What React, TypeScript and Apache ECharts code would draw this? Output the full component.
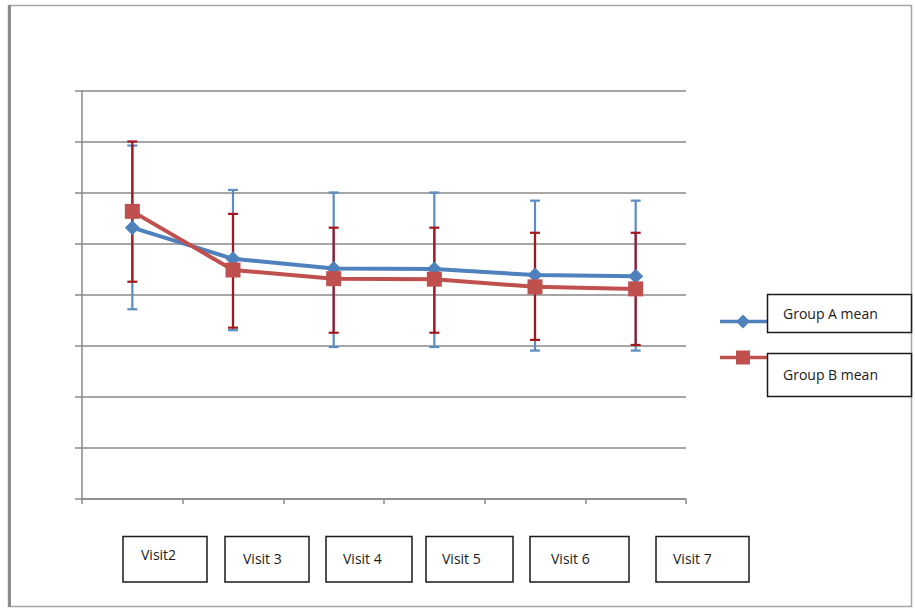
import React, { useEffect, useRef } from "react";
import * as echarts from "echarts";

const categories = ["Visit2", "Visit 3", "Visit 4", "Visit 5", "Visit 6", "Visit 7"];
const seriesNames = ["Group A mean", "Group B mean"];

const groupAMean = [5.32, 4.71, 4.52, 4.51, 4.39, 4.37];
const groupALow = [3.72, 3.31, 2.98, 2.98, 2.91, 2.91];
const groupAHigh = [6.93, 6.06, 6.01, 6.01, 5.85, 5.85];

const groupBMean = [5.64, 4.49, 4.32, 4.31, 4.16, 4.12];
const groupBLow = [4.26, 3.36, 3.26, 3.26, 3.12, 3.02];
const groupBHigh = [7.01, 5.59, 5.32, 5.32, 5.22, 5.22];

const yMin = 0;
const yMax = 8;
const yStep = 1;

// layout of the text boxes under the plot (page pixels)
const labelBoxes = [
  { x: 123, w: 84, tx: 141, ty: 554 },
  { x: 225, w: 84, tx: 243, ty: 558 },
  { x: 326, w: 86, tx: 343, ty: 558 },
  { x: 426, w: 87, tx: 442, ty: 558 },
  { x: 530, w: 99, tx: 551, ty: 558 },
  { x: 656, w: 93, tx: 673, ty: 558 },
];

const BLUE = "#4F81BD";
const RED = "#C0504D";
const BLUE_ERR = "#5B8CC2";
const RED_ERR = "#A3171F";
const GRID = "#8a8a8a";
const FONT = "'Open Sans', 'Noto Sans', sans-serif";

function errorSeries(name: string, low: number[], high: number[], color: string, z: number) {
  return {
    type: "custom",
    name: name + " error",
    z,
    silent: true,
    data: categories.map((_, i) => [i, low[i], high[i]]),
    encode: { x: 0, y: [1, 2] },
    renderItem: (params: any, api: any) => {
      const idx = api.value(0);
      const lo = api.coord([idx, api.value(1)]);
      const hi = api.coord([idx, api.value(2)]);
      const cap = 5;
      const st = { stroke: color, lineWidth: 2.2 };
      return {
        type: "group",
        children: [
          { type: "line", shape: { x1: lo[0], y1: lo[1], x2: hi[0], y2: hi[1] }, style: st },
          { type: "line", shape: { x1: lo[0] - cap, y1: lo[1], x2: lo[0] + cap, y2: lo[1] }, style: st },
          { type: "line", shape: { x1: hi[0] - cap, y1: hi[1], x2: hi[0] + cap, y2: hi[1] }, style: st },
        ],
      };
    },
  };
}

export default function App() {
  const ref = useRef<HTMLDivElement>(null);

  useEffect(() => {
    if (!ref.current) return;
    const chart = echarts.init(ref.current, null, { renderer: "svg" });

    const graphics: any[] = [];
    // outer frame
    graphics.push({
      type: "rect",
      shape: { x: 8.5, y: 5.5, width: 903, height: 601 },
      style: { fill: "none", stroke: "#a6a6a6", lineWidth: 1.5 },
      z: 0,
    });
    graphics.push({
      type: "line",
      shape: { x1: 9.5, y1: 5, x2: 9.5, y2: 607 },
      style: { stroke: "#8c8c8c", lineWidth: 3 },
      z: 0,
    });

    // category text boxes
    categories.forEach((c, i) => {
      const b = labelBoxes[i];
      graphics.push({
        type: "rect",
        shape: { x: b.x, y: 536.5, width: b.w, height: 45.5 },
        style: { fill: "#fff", stroke: "#1a1a1a", lineWidth: 1.5 },
      });
      graphics.push({
        type: "text",
        x: b.tx,
        y: b.ty,
        style: {
          text: c,
          fill: "#1a1a1a",
          font: `14px ${FONT}`,
          textVerticalAlign: "middle",
          textAlign: "left",
        },
      });
    });

    // legend
    const legendRows = [
      { name: seriesNames[0], color: BLUE, lineY: 321.5, boxY: 294.5, boxH: 38, textY: 313, marker: "diamond" },
      { name: seriesNames[1], color: RED, lineY: 357.5, boxY: 353.5, boxH: 43, textY: 374, marker: "square" },
    ];
    legendRows.forEach((r) => {
      graphics.push({
        type: "line",
        shape: { x1: 720, y1: r.lineY, x2: 767, y2: r.lineY },
        style: { stroke: r.color, lineWidth: 3.5 },
      });
      if (r.marker === "diamond") {
        graphics.push({
          type: "polygon",
          shape: { points: [[743, r.lineY - 7], [750, r.lineY], [743, r.lineY + 7], [736, r.lineY]] },
          style: { fill: r.color },
        });
      } else {
        graphics.push({
          type: "rect",
          shape: { x: 736, y: r.lineY - 7, width: 14, height: 14 },
          style: { fill: r.color },
        });
      }
      graphics.push({
        type: "rect",
        shape: { x: 767.5, y: r.boxY, width: 144, height: r.boxH },
        style: { fill: "#fff", stroke: "#1a1a1a", lineWidth: 1.5 },
      });
      graphics.push({
        type: "text",
        x: 783,
        y: r.textY,
        style: {
          text: r.name,
          fill: "#1a1a1a",
          font: `14px ${FONT}`,
          textVerticalAlign: "middle",
          textAlign: "left",
        },
      });
    });

    chart.setOption({
      animation: false,
      backgroundColor: "#ffffff",
      grid: { left: 82, right: 229, top: 91, bottom: 110, containLabel: false },
      xAxis: {
        type: "category",
        data: categories,
        boundaryGap: true,
        axisLine: { show: true, lineStyle: { color: GRID, width: 1.5 } },
        axisTick: { show: true, length: 5, lineStyle: { color: GRID, width: 1.5 } },
        axisLabel: { show: false },
        splitLine: { show: false },
      },
      yAxis: {
        type: "value",
        min: yMin,
        max: yMax,
        interval: yStep,
        axisLine: { show: true, lineStyle: { color: GRID, width: 1.5 } },
        axisTick: { show: true, length: 7, lineStyle: { color: GRID, width: 1.5 } },
        axisLabel: { show: false },
        splitLine: { show: true, lineStyle: { color: GRID, width: 1.5 } },
      },
      graphic: { elements: graphics },
      series: [
        errorSeries(seriesNames[0], groupALow, groupAHigh, BLUE_ERR, 2),
        errorSeries(seriesNames[1], groupBLow, groupBHigh, RED_ERR, 3),
        {
          type: "line",
          name: seriesNames[0],
          data: groupAMean,
          z: 4,
          symbol: "diamond",
          symbolSize: 15,
          lineStyle: { color: BLUE, width: 4 },
          itemStyle: { color: BLUE },
        },
        {
          type: "line",
          name: seriesNames[1],
          data: groupBMean,
          z: 5,
          symbol: "rect",
          symbolSize: 15,
          lineStyle: { color: RED, width: 4 },
          itemStyle: { color: RED },
        },
      ],
    });

    return () => chart.dispose();
  }, []);

  return (
    <div
      ref={ref}
      style={{ position: "absolute", left: 0, top: 0, width: 915, height: 609, background: "#fff" }}
    />
  );
}
